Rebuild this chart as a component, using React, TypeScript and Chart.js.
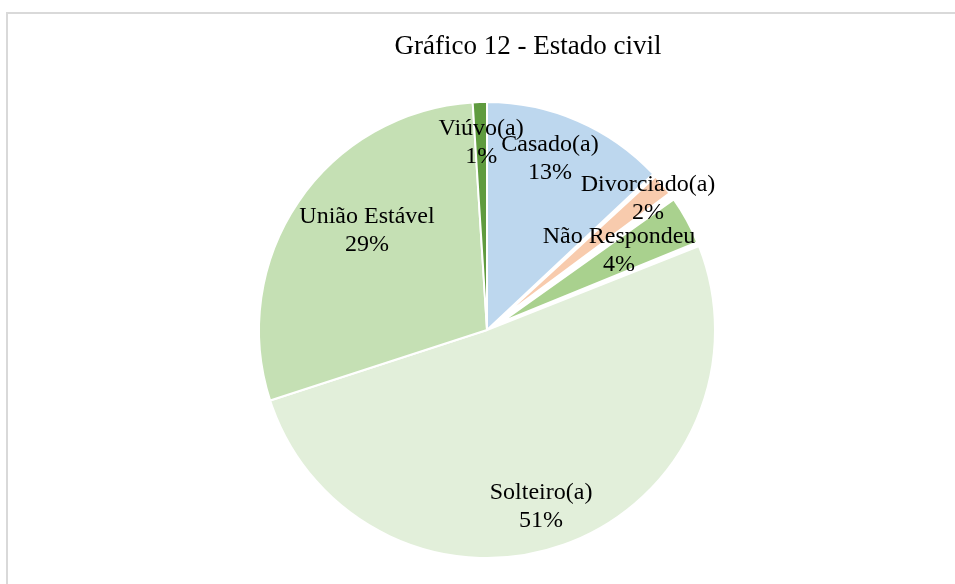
import React, { useEffect, useRef } from "react";
import { Chart, registerables } from "chart.js";

Chart.register(...registerables);

const chartTitle = "Gráfico 12 - Estado civil";
const categories = ["Casado(a)", "Divorciado(a)", "Não Respondeu", "Solteiro(a)", "União Estável", "Viúvo(a)"];
const values = [13, 2, 4, 51, 29, 1];
const colors = ["#BDD7EE", "#F8CBAD", "#A9D18E", "#E2EFDA", "#C5E0B4", "#5F9B3F"];

// styling / placement (not data)
const explodePx = [0, 17, 17, 0, 0, 0];
const labelRadius = [0.8, 0.91, 0.675, 0.811, 0.682, 0.82];
const labelAngleShift = [-3.2, 0.5, -2.1, 2.8, 5.3, 0];
const LABEL_FONT = "24px 'Liberation Serif', 'Times New Roman', serif";
const TITLE_FONT = "27px 'Liberation Serif', 'Times New Roman', serif";

const explodeFit = {
  id: "explodeFit",
  beforeDatasetsDraw(chart: any) {
    const meta = chart.getDatasetMeta(0);
    const R = meta.controller.outerRadius;
    meta.data.forEach((arc: any, i: number) => {
      const t = explodePx[i];
      if (!t) return;
      const circ = arc.endAngle - arc.startAngle;
      const fix = 1 - Math.sin(Math.min(Math.PI, circ));
      arc.outerRadius = R - t - t * fix;
    });
  },
};

const textPlugin = {
  id: "texts",
  afterDatasetsDraw(chart: any) {
    const ctx = chart.ctx as CanvasRenderingContext2D;
    const meta = chart.getDatasetMeta(0);
    const R = meta.controller.outerRadius;
    const total = values.reduce((a, b) => a + b, 0);
    ctx.save();
    ctx.fillStyle = "#000";
    ctx.textAlign = "center";
    ctx.textBaseline = "middle";
    ctx.font = TITLE_FONT;
    ctx.fillText(chartTitle, 528, 47);
    ctx.font = LABEL_FONT;
    meta.data.forEach((arc: any, i: number) => {
      const mid = (arc.startAngle + arc.endAngle) / 2 + (labelAngleShift[i] * Math.PI) / 180;
      const r = labelRadius[i] * R;
      const px = arc.x + r * Math.cos(mid);
      const py = arc.y + r * Math.sin(mid);
      const pct = Math.round((values[i] / total) * 100) + "%";
      ctx.fillText(categories[i], px, py - 14);
      ctx.fillText(pct, px, py + 14);
    });
    ctx.restore();
  },
};

export default function App() {
  const ref = useRef<HTMLCanvasElement | null>(null);
  useEffect(() => {
    if (!ref.current) return;
    const chart = new Chart(ref.current, {
      type: "pie",
      data: {
        labels: categories,
        datasets: [
          {
            data: values,
            backgroundColor: colors,
            borderColor: "#ffffff",
            borderWidth: 2,
            offset: explodePx.map((v) => v * 4),
          },
        ],
      },
      options: {
        animation: false,
        responsive: false,
        events: [],
        radius: 228,
        layout: { padding: { left: 19, top: 76, right: 0, bottom: 0 } },
        plugins: { legend: { display: false }, tooltip: { enabled: false }, title: { display: false } },
      } as any,
      plugins: [explodeFit, textPlugin],
    });
    return () => chart.destroy();
  }, []);
  return (
    <div style={{ position: "fixed", left: 0, top: 0, width: 955, height: 584, overflow: "hidden", background: "#fff" }}>
      <div
        style={{
          position: "absolute",
          left: 6,
          top: 12,
          width: 1100,
          height: 1100,
          border: "2px solid #d9d9d9",
          boxSizing: "border-box",
        }}
      />
      <canvas ref={ref} width={955} height={584} style={{ position: "absolute", left: 0, top: 0, width: 955, height: 584 }} />
    </div>
  );
}
